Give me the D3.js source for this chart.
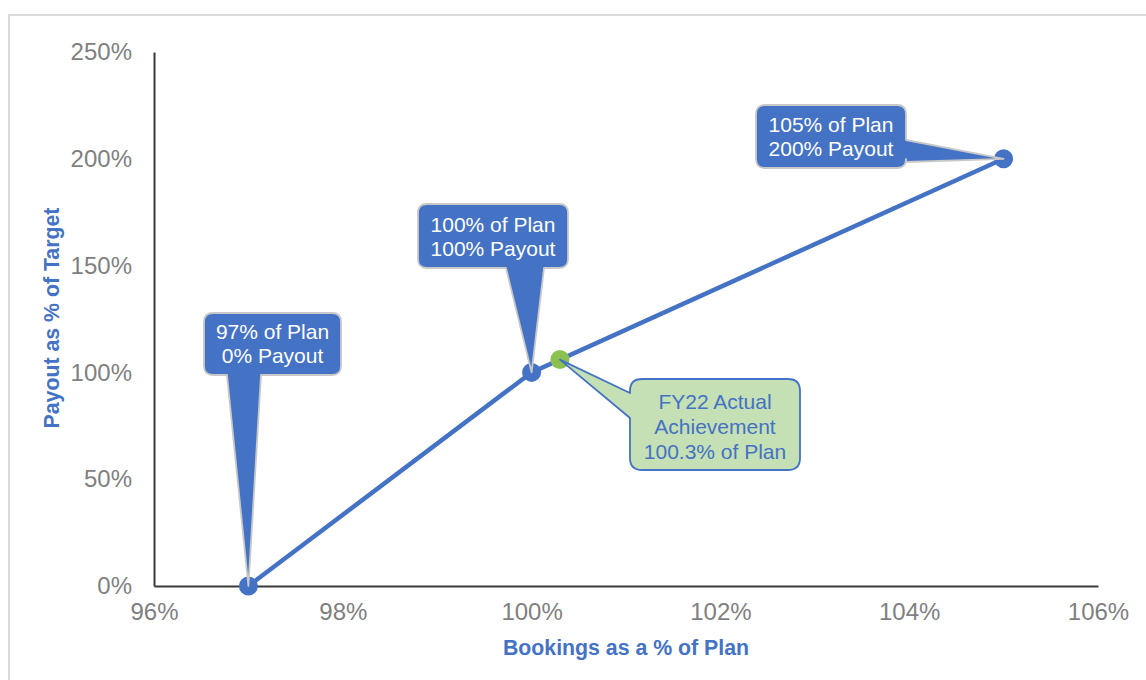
<!DOCTYPE html>
<html><head><meta charset="utf-8">
<script src="https://cdn.jsdelivr.net/npm/d3@7"></script>
<style>
html,body{margin:0;padding:0;background:#fff;}
svg{display:block;font-family:"Liberation Sans",Arial,sans-serif;}
</style></head>
<body><svg id="chart" width="1146" height="680"></svg>
<script>
// ---- data ----
const bookings = [97, 100, 105];          // % of plan
const payout = [0, 100, 200];             // % of target
const actualBookings = [100.3];
const actualPayout = [106];
const xTicks = [96, 98, 100, 102, 104, 106];
const yTicks = [0, 50, 100, 150, 200, 250];
const pointLabels = [["97% of Plan", "0% Payout"], ["100% of Plan", "100% Payout"], ["105% of Plan", "200% Payout"]];
const actualLabel = ["FY22 Actual", "Achievement", "100.3% of Plan"];
const xTitle = "Bookings as a % of Plan";
const yTitle = "Payout as % of Target";

// ---- layout ----
const svg = d3.select("#chart");
const W = 1146, H = 680;
const plot = {left: 154, right: 1098, top: 52, bottom: 586};
const blue = "#4472C4", green = "#8CC152", greenFill = "#C5E0B4", gray = "#7f7f7f";

const x = d3.scaleLinear().domain([96, 106]).range([plot.left, plot.right]);
const y = d3.scaleLinear().domain([0, 250]).range([plot.bottom, plot.top]);

// frame
svg.append("rect").attr("x", 9).attr("y", 15).attr("width", W + 20).attr("height", H + 20)
  .attr("fill", "none").attr("stroke", "#d9d9d9").attr("stroke-width", 2);

// axes
const xAxis = svg.append("g").attr("transform", `translate(0,${plot.bottom})`)
  .call(d3.axisBottom(x).tickValues(xTicks).tickSize(0).tickPadding(17).tickFormat(d => d + "%"));
const yAxis = svg.append("g").attr("transform", `translate(${plot.left},0)`)
  .call(d3.axisLeft(y).tickValues(yTicks).tickSize(0).tickPadding(22).tickFormat(d => d + "%"));
[xAxis, yAxis].forEach(g => {
  g.select(".domain").attr("stroke", "#3a3a3a").attr("stroke-width", 2);
  g.selectAll("text").attr("fill", gray).style("font-size", "24px")
    .style("font-family", "'Liberation Sans',Arial,sans-serif");
});

// axis titles
svg.append("text").attr("x", 626).attr("y", 655).attr("text-anchor", "middle")
  .attr("fill", blue).style("font-weight", "bold").style("font-size", "21.3px").text(xTitle);
svg.append("text").attr("transform", "translate(59,318) rotate(-90)").attr("text-anchor", "middle")
  .attr("fill", blue).style("font-weight", "bold").style("font-size", "21.3px").text(yTitle);

// line
const pts = bookings.map((b, i) => [b, payout[i]]);
svg.append("path").datum(pts)
  .attr("d", d3.line().x(d => x(d[0])).y(d => y(d[1])))
  .attr("fill", "none").attr("stroke", blue).attr("stroke-width", 4.5);
svg.selectAll("circle.pt").data(pts).enter().append("circle").attr("class", "pt")
  .attr("cx", d => x(d[0])).attr("cy", d => y(d[1])).attr("r", 9.5).attr("fill", blue);
svg.selectAll("circle.act").data(actualBookings).enter().append("circle").attr("class", "act")
  .attr("cx", d => x(d)).attr("cy", (d, i) => y(actualPayout[i])).attr("r", 9.5).attr("fill", green);

// callout path builder
function callout(b, side, base1, base2, tip, r) {
  const {x0, y0, x1, y1} = b;
  let p = `M${x0 + r},${y0}`;
  p += `L${x1 - r},${y0}Q${x1},${y0} ${x1},${y0 + r}`;
  if (side === "right") p += `L${x1},${base1}L${tip[0]},${tip[1]}L${x1},${base2}`;
  p += `L${x1},${y1 - r}Q${x1},${y1} ${x1 - r},${y1}`;
  if (side === "bottom") p += `L${base2},${y1}L${tip[0]},${tip[1]}L${base1},${y1}`;
  p += `L${x0 + r},${y1}Q${x0},${y1} ${x0},${y1 - r}`;
  if (side === "left") p += `L${x0},${base2}L${tip[0]},${tip[1]}L${x0},${base1}`;
  p += `L${x0},${y0 + r}Q${x0},${y0} ${x0 + r},${y0}Z`;
  return p;
}

// callout layout (pixel boxes), tips from scales
const boxes = [
  {box: {x0: 204, y0: 313, x1: 341, y1: 375}, side: "bottom", b1: 227, b2: 261, lineY: [339, 363]},
  {box: {x0: 418, y0: 204, x1: 568, y1: 268}, side: "bottom", b1: 506, b2: 544, lineY: [232, 256]},
  {box: {x0: 756, y0: 105, x1: 906, y1: 168}, side: "right", b1: 140, b2: 162, lineY: [132, 156]}
];
boxes.forEach((c, i) => {
  const tip = [x(bookings[i]), y(payout[i])];
  svg.append("path").attr("d", callout(c.box, c.side, c.b1, c.b2, tip, 9))
    .attr("fill", blue).attr("stroke", "#c8c8c8").attr("stroke-width", 1.8).attr("stroke-linejoin", "round");
  const cx = (c.box.x0 + c.box.x1) / 2;
  pointLabels[i].forEach((t, j) => {
    svg.append("text").attr("x", cx).attr("y", c.lineY[j]).attr("text-anchor", "middle")
      .attr("fill", "#fff").style("font-size", "21px").text(t);
  });
});

// actual callout
const aBox = {x0: 630, y0: 379, x1: 800, y1: 470};
const aTip = [x(actualBookings[0]), y(actualPayout[0])];
svg.append("path").attr("d", callout(aBox, "left", 393, 418, aTip, 12))
  .attr("fill", greenFill).attr("stroke", blue).attr("stroke-width", 1.8).attr("stroke-linejoin", "round");
actualLabel.forEach((t, j) => {
  svg.append("text").attr("x", (aBox.x0 + aBox.x1) / 2).attr("y", 409 + j * 25).attr("text-anchor", "middle")
    .attr("fill", blue).style("font-size", "21px").text(t);
});
</script></body></html>
